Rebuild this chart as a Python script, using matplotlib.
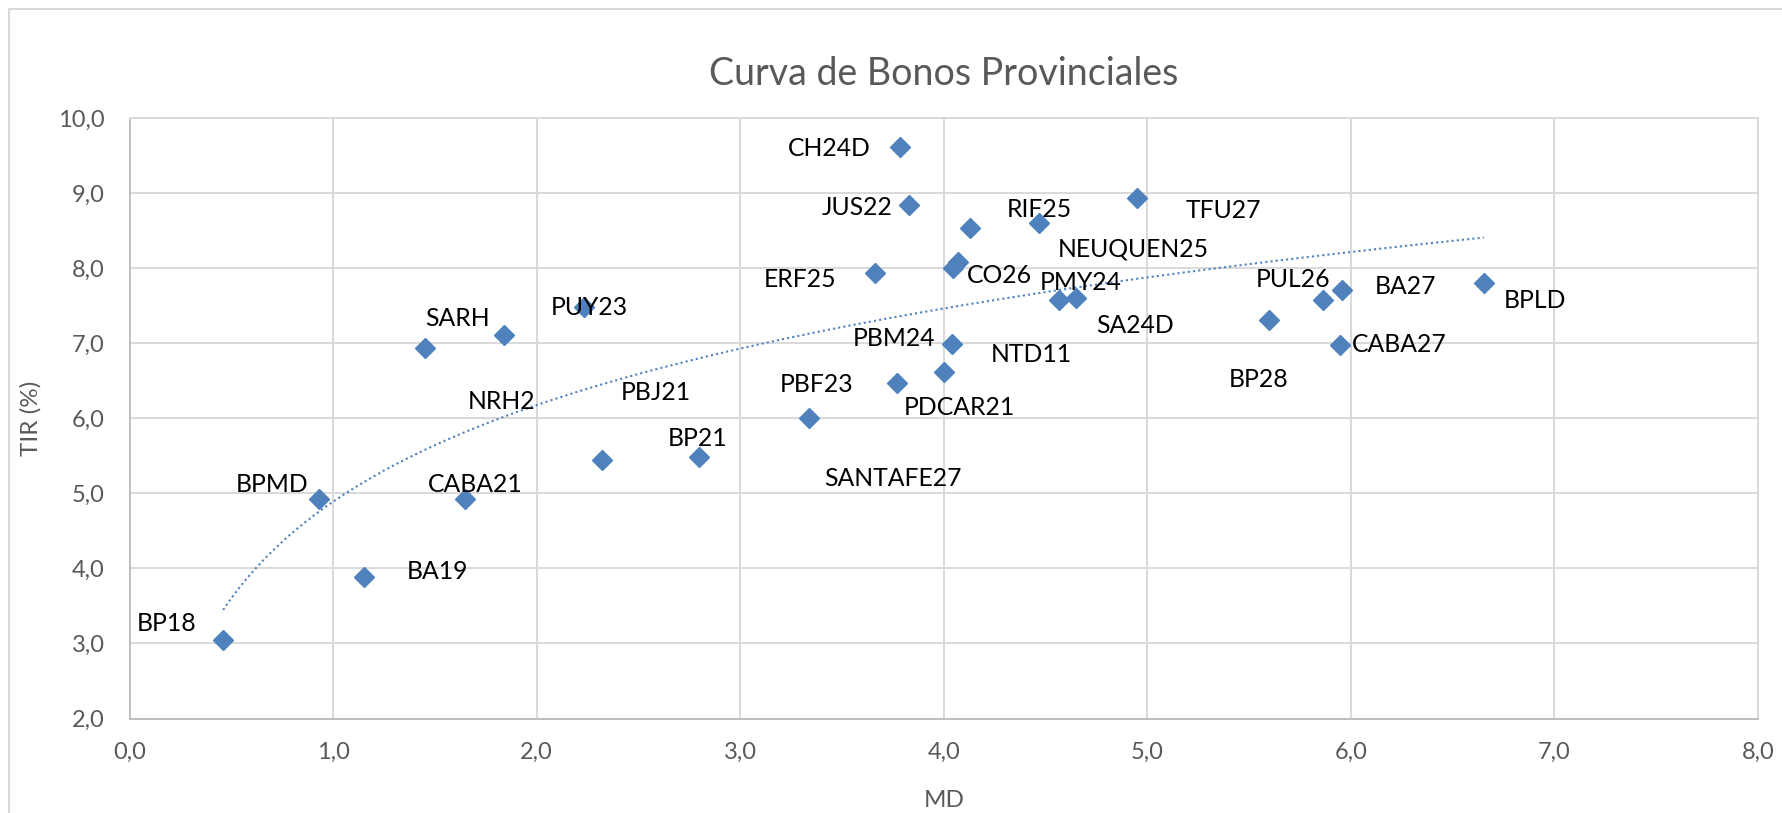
import numpy as np
import matplotlib
matplotlib.use("Agg")
import matplotlib.pyplot as plt
from matplotlib.patches import Rectangle
from matplotlib.ticker import FuncFormatter, MultipleLocator

# =========================
# Data
# =========================
bonos = ["BP18", "BPMD", "BA19", "CABA21", "SARH", "NRH2", "PUY23", "PBJ21",
         "BP21", "SANTAFE27", "PBF23", "PDCAR21", "PBM24", "ERF25", "CH24D",
         "JUS22", "NEUQUEN25", "RIF25", "TFU27", "CO26", "NTD11", "PMY24",
         "SA24D", "BP28", "PUL26", "BA27", "CABA27", "BPLD"]

md = [0.46, 0.93, 1.15, 1.65, 1.45, 1.84, 2.235, 2.32,
      2.80, 3.34, 3.77, 4.00, 4.04, 3.66, 3.785,
      3.83, 4.13, 4.47, 4.95, 4.045, 4.07, 4.567,
      4.648, 5.596, 5.865, 5.957, 5.945, 6.653]

tir = [3.04, 4.93, 3.89, 4.93, 6.93, 7.11, 7.48, 5.45,
       5.49, 6.00, 6.47, 6.62, 6.99, 7.93, 9.61,
       8.84, 8.54, 8.60, 8.93, 8.00, 8.08, 7.57,
       7.60, 7.31, 7.58, 7.71, 6.97, 7.80]

# label offsets in pixels (dx, dy up) from each marker
label_offsets = [(-57, 17), (-47, 14), (74, 5), (10, 14), (33, 30), (-2, -67),
                 (5, 0), (54, 67), (-2, 18), (83, -60), (-80, -2), (16, -36),
                 (-58, 5), (-75, -6), (-71, -1), (-52, -2), (163, -21),
                 (0, 14), (86, -12), (47, -7), (73, -92), (22, 18), (59, -27),
                 (-10, -60), (-30, 20), (63, 3), (60, 1), (51, -17)]

# =========================
# Style
# =========================
plt.rcParams["font.family"] = ["Lato", "DejaVu Sans"]
blue = "#4F81BD"
grid_color = "#D9D9D9"
axis_color = "#BFBFBF"
text_gray = "#595959"

fig = plt.figure(figsize=(17.82, 8.13), dpi=100)
ax = fig.add_axes([129.5 / 1782, 1 - 718.5 / 813, (1758 - 129.5) / 1782, (718.5 - 118) / 813])

# chart border (cut at right/bottom like the screenshot)
fig.patches.append(Rectangle((9 / 1782, -0.2), 1.2, 1.2 - 9 / 813, transform=fig.transFigure,
                             fill=False, edgecolor=grid_color, linewidth=1.5))

# logarithmic trendline fitted on the data
a, b = np.polyfit(np.log(md), tir, 1)
xs = np.linspace(min(md), max(md), 200)
ax.plot(xs, a * np.log(xs) + b, color=blue, linewidth=1.5,
        linestyle=(0, (1, 1.5)), zorder=2)

ax.plot(md, tir, linestyle="none", marker="D", markersize=10.5,
        color=blue, zorder=3)

for name, x, y, (dx, dy) in zip(bonos, md, tir, label_offsets):
    ax.annotate(name, (x, y), xytext=(dx, dy), textcoords="offset pixels",
                ha="center", va="center", fontsize=17.8, color="black", zorder=4)

ax.set_xlim(0, 8)
ax.set_ylim(2, 10)
ax.xaxis.set_major_locator(MultipleLocator(1))
ax.yaxis.set_major_locator(MultipleLocator(1))
fmt = FuncFormatter(lambda v, p: f"{v:.1f}".replace(".", ","))
ax.xaxis.set_major_formatter(fmt)
ax.yaxis.set_major_formatter(fmt)
ax.tick_params(length=0, labelsize=17, labelcolor=text_gray)
ax.tick_params(axis="x", pad=17)
ax.tick_params(axis="y", pad=18)
ax.grid(True, color=grid_color, linewidth=1.4)
ax.set_axisbelow(True)

for side in ["top", "right"]:
    ax.spines[side].set_color(grid_color)
    ax.spines[side].set_linewidth(1.4)
for side in ["left", "bottom"]:
    ax.spines[side].set_color(axis_color)
    ax.spines[side].set_linewidth(1.4)

ax.set_title("Curva de Bonos Provinciales", fontsize=27, color=text_gray, pad=24)
ax.set_xlabel("MD", fontsize=17.5, color=text_gray, labelpad=19)
ax.set_ylabel("TIR (%)", fontsize=17.5, color=text_gray, labelpad=12)

fig.savefig("out.png", dpi=100, facecolor="white")
